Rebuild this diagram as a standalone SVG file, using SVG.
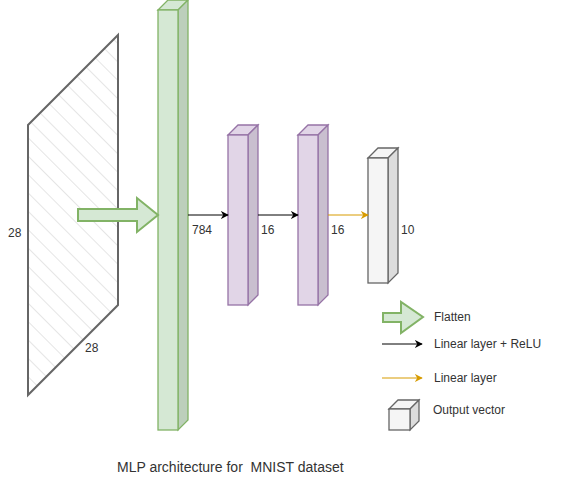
<svg xmlns="http://www.w3.org/2000/svg" width="573" height="493" viewBox="0 0 573 493">
<style>
text{font-family:"Liberation Sans",Arial,sans-serif;font-size:12px;fill:#333333;dominant-baseline:central}
.cap{font-size:14px}
.g{fill:#d5e8d4;stroke:#82b366;stroke-width:1.3}
.gs{fill:#bccfbb;stroke:#82b366;stroke-width:1.3}
.p{fill:#e1d5e7;stroke:#9673a6;stroke-width:1.3}
.ps{fill:#c9bfcf;stroke:#9673a6;stroke-width:1.3}
.w{fill:#f5f5f5;stroke:#666666;stroke-width:1.3}
.ws{fill:#dcdcdc;stroke:#666666;stroke-width:1.3}
.fa{fill:#d5e8d4;stroke:#82b366;stroke-width:2}
.k{stroke:#000000;stroke-width:1;fill:none}
.o{stroke:#d79b00;stroke-width:1;fill:none}
</style>
<defs>
<pattern id="hatch" patternUnits="userSpaceOnUse" width="13" height="13" patternTransform="rotate(-45)">
<line x1="0" y1="0" x2="0" y2="13" stroke="#cccccc" stroke-width="1"/>
</pattern>
<marker id="mk" viewBox="0 0 10 10" refX="9" refY="5" markerWidth="8" markerHeight="8" markerUnits="userSpaceOnUse" orient="auto">
<path d="M0,0 L10,5 L0,10 L3,5 Z" fill="#000000"/>
</marker>
<marker id="mo" viewBox="0 0 10 10" refX="9" refY="5" markerWidth="8" markerHeight="8" markerUnits="userSpaceOnUse" orient="auto">
<path d="M0,0 L10,5 L0,10 L3,5 Z" fill="#d79b00"/>
</marker>
</defs>
<rect width="573" height="493" fill="#ffffff"/>

<g id="image">
<polygon points="28,125 118,35 118,305 28,395" fill="url(#hatch)" stroke="#666666" stroke-width="2"/>
<text x="8" y="233">28</text>
<text x="85" y="348">28</text>
</g>

<g id="input-layer">
<polygon class="g" points="158,10 168,0 188,0 178,10"/>
<polygon class="gs" points="178,10 188,0 188,420 178,430"/>
<rect class="g" x="158" y="10" width="20" height="420"/>
<text x="192" y="230">784</text>
</g>

<g id="hidden1">
<polygon class="p" points="228,135 238,125 258,125 248,135"/>
<polygon class="ps" points="248,135 258,125 258,295 248,305"/>
<rect class="p" x="228" y="135" width="20" height="170"/>
<text x="261" y="230">16</text>
</g>

<g id="hidden2">
<polygon class="p" points="298,135 308,125 328,125 318,135"/>
<polygon class="ps" points="318,135 328,125 328,295 318,305"/>
<rect class="p" x="298" y="135" width="20" height="170"/>
<text x="331" y="230">16</text>
</g>

<g id="output">
<polygon class="w" points="368,158 378,148 398,148 388,158"/>
<polygon class="ws" points="388,158 398,148 398,273 388,283"/>
<rect class="w" x="368" y="158" width="20" height="125"/>
<text x="401" y="230">10</text>
</g>

<g id="connectors">
<polygon class="fa" points="78,209 137,209 137,198 158,215 137,232 137,221 78,221"/>
<line class="k" x1="188" y1="215" x2="228" y2="215" marker-end="url(#mk)"/>
<line class="k" x1="258" y1="215" x2="298" y2="215" marker-end="url(#mk)"/>
<line class="o" x1="328" y1="215" x2="368" y2="215" marker-end="url(#mo)"/>
</g>

<g id="legend">
<polygon class="fa" points="383,313 401,313 401,302 423,317 401,333 401,322 383,322"/>
<text x="434" y="317">Flatten</text>
<line class="k" x1="382" y1="344" x2="422" y2="344" marker-end="url(#mk)"/>
<text x="434" y="344">Linear layer + ReLU</text>
<line class="o" x1="382" y1="378" x2="422" y2="378" marker-end="url(#mo)"/>
<text x="434" y="378">Linear layer</text>
<polygon class="w" points="389,409 398,400 419,400 410,409"/>
<polygon class="ws" points="410,409 419,400 419,421 410,430"/>
<rect class="w" x="389" y="409" width="21" height="21"/>
<text x="433" y="410">Output vector</text>
</g>

<g id="caption">
<text class="cap" x="117" y="467" xml:space="preserve">MLP architecture for  MNIST dataset</text>
</g>
</svg>
